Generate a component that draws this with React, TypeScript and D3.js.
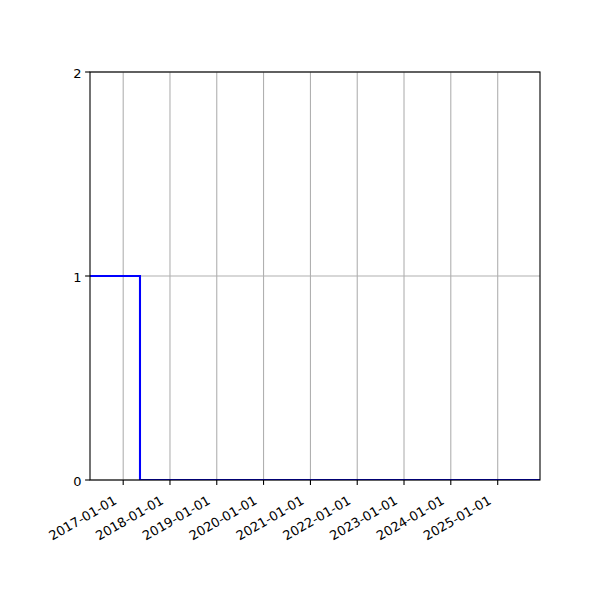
import * as d3 from "d3";

/* ------------------------------------------------------------------ */
/*  Data                                                              */
/* ------------------------------------------------------------------ */

const stepDates = ["2016-04-17", "2017-05-12", "2025-11-27"];
const stepValues = [1, 0, 0];
const xDomain = ["2016-04-17", "2025-11-27"];
const yTicks = [0, 1, 2];
const xTickYears = [2017, 2018, 2019, 2020, 2021, 2022, 2023, 2024, 2025];

/* ------------------------------------------------------------------ */
/*  Layout                                                            */
/* ------------------------------------------------------------------ */

const W = 600;
const H = 600;
const left = 90;
const right = 540;
const top = 72;
const bottom = 480;
const font = "'DejaVu Sans', sans-serif";
const fs = 13;

const parse = d3.utcParse("%Y-%m-%d");
const fmt = d3.utcFormat("%Y-%m-%d");

export default function App() {
  const x = d3
    .scaleUtc()
    .domain(xDomain.map((d) => parse(d) as Date))
    .range([left, right]);
  const y = d3.scaleLinear().domain([0, 2]).range([bottom, top]);

  const points = stepDates.map((d, i) => ({ date: parse(d) as Date, value: stepValues[i] }));
  const line = d3
    .line<{ date: Date; value: number }>()
    .x((d) => x(d.date))
    .y((d) => y(d.value))
    .curve(d3.curveStepAfter);

  const xTicks = xTickYears.map((yr) => new Date(Date.UTC(yr, 0, 1)));

  return (
    <div style={{ position: "absolute", left: 0, top: 0 }}>
      <svg width={W} height={H} viewBox={`0 0 ${W} ${H}`} style={{ display: "block", background: "#fff" }}>
        <defs>
          <clipPath id="plot">
            <rect x={left} y={top} width={right - left} height={bottom - top} />
          </clipPath>
        </defs>

        {/* grid */}
        <g stroke="#b0b0b0" strokeWidth={1.1}>
          {xTicks.map((t) => (
            <line key={t.getTime()} x1={x(t)} x2={x(t)} y1={top} y2={bottom} />
          ))}
          {yTicks.map((t) => (
            <line key={t} x1={left} x2={right} y1={y(t)} y2={y(t)} />
          ))}
        </g>

        {/* series */}
        <path d={line(points) ?? ""} fill="none" stroke="#0000ff" strokeWidth={2.08} clipPath="url(#plot)" />

        {/* spines */}
        <rect x={left} y={top} width={right - left} height={bottom - top} fill="none" stroke="#000" strokeWidth={1.1} />

        {/* x ticks */}
        <g fontFamily={font} fontSize={fs} fill="#000">
          {xTicks.map((t) => {
            const tx = x(t);
            const ax = tx - 5.5;
            const ay = bottom + 23;
            return (
              <g key={t.getTime()}>
                <line x1={tx} x2={tx} y1={bottom} y2={bottom + 4.9} stroke="#000" strokeWidth={1.1} />
                <text x={ax} y={ay} textAnchor="end" transform={`rotate(-30, ${ax}, ${ay})`}>
                  {fmt(t)}
                </text>
              </g>
            );
          })}
        </g>

        {/* y ticks */}
        <g fontFamily={font} fontSize={fs} fill="#000">
          {yTicks.map((t) => (
            <g key={t}>
              <line x1={left - 4.9} x2={left} y1={y(t)} y2={y(t)} stroke="#000" strokeWidth={1.1} />
              <text x={left - 8.5} y={y(t)} dy={1} textAnchor="end" dominantBaseline="central">
                {t}
              </text>
            </g>
          ))}
        </g>
      </svg>
    </div>
  );
}
